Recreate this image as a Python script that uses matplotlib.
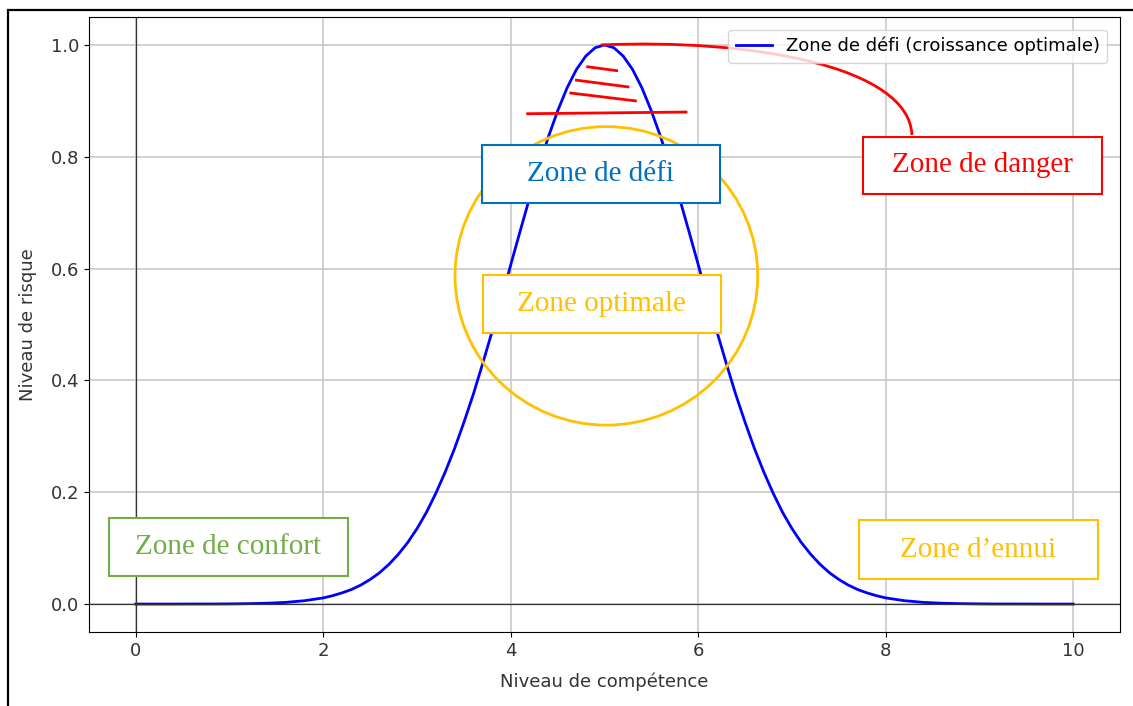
import matplotlib
matplotlib.use("Agg")
import matplotlib.pyplot as plt
from matplotlib.patches import Rectangle, Ellipse, PathPatch
from matplotlib.path import Path

# Niveau de compétence (x) et niveau de risque (y)
competence = [0.0, 0.2, 0.4, 0.6, 0.8, 1.0, 1.2, 1.4, 1.6, 1.8,
              2.0, 2.1, 2.2, 2.3, 2.4, 2.5, 2.6, 2.7, 2.8, 2.9,
              3.0, 3.1, 3.2, 3.3, 3.4, 3.5, 3.6, 3.7, 3.8, 3.9,
              4.0, 4.1, 4.2, 4.3, 4.4, 4.5, 4.6, 4.7, 4.8, 4.9,
              5.0, 5.1, 5.2, 5.3, 5.4, 5.5, 5.6, 5.7, 5.8, 5.9,
              6.0, 6.1, 6.2, 6.3, 6.4, 6.5, 6.6, 6.7, 6.8, 6.9,
              7.0, 7.1, 7.2, 7.3, 7.4, 7.5, 7.6, 7.7, 7.8, 7.9,
              8.0, 8.2, 8.4, 8.6, 8.8, 9.0, 9.2, 9.4, 9.6, 9.8, 10.0]
risque = [0.0, 0.0, 0.0, 0.0001, 0.0001, 0.0003, 0.0007, 0.0015, 0.003, 0.006,
          0.011, 0.015, 0.020, 0.026, 0.034, 0.044, 0.056, 0.071, 0.089, 0.110,
          0.135, 0.164, 0.198, 0.236, 0.278, 0.325, 0.375, 0.430, 0.487, 0.546,
          0.607, 0.667, 0.726, 0.783, 0.835, 0.882, 0.923, 0.956, 0.980, 0.995,
          1.0, 0.995, 0.980, 0.956, 0.923, 0.882, 0.835, 0.783, 0.726, 0.667,
          0.607, 0.546, 0.487, 0.430, 0.375, 0.325, 0.278, 0.236, 0.198, 0.164,
          0.135, 0.110, 0.089, 0.071, 0.056, 0.044, 0.034, 0.026, 0.020, 0.015,
          0.011, 0.006, 0.003, 0.0015, 0.0007, 0.0003, 0.0001, 0.0001, 0.0, 0.0, 0.0]
legende = "Zone de défi (croissance optimale)"

# Encadrés : (texte, x0, x1, y_bas, y_haut, couleur)
zones = [
    ("Zone de défi", 3.69, 6.23, 0.718, 0.821, "#0070C0"),
    ("Zone optimale", 3.70, 6.24, 0.484, 0.588, "#FFC000"),
    ("Zone de confort", -0.29, 2.26, 0.050, 0.154, "#70AD47"),
    ("Zone d\u2019ennui", 7.72, 10.26, 0.045, 0.150, "#FFC000"),
    ("Zone de danger", 7.76, 10.31, 0.734, 0.836, "#FF0000"),
]

# Traits rouges (hachures) dans le sommet
hachures = [
    ((4.82, 0.961), (5.13, 0.954)),
    ((4.70, 0.937), (5.25, 0.925)),
    ((4.64, 0.914), (5.33, 0.900)),
    ((4.18, 0.877), (5.87, 0.880)),
]

fig = plt.figure(figsize=(11.33, 7.06), dpi=100)
fig.patch.set_facecolor("white")

# Cadre de la capture d'écran
fig.add_artist(Rectangle((8 / 1133, -0.05), 1.1, 1 - 10 / 706 + 0.05,
                         transform=fig.transFigure, fill=False,
                         edgecolor="black", lw=1.6))

ax = fig.add_axes([89 / 1133, 1 - 632 / 706, (1120 - 89) / 1133, (632 - 17) / 706])

ax.plot(competence, risque, color="blue", lw=2, label=legende)
ax.axhline(0, color="#333333", lw=0.9)
ax.axvline(0, color="#333333", lw=0.9)

ax.set_xlim(-0.5, 10.5)
ax.set_ylim(-0.05, 1.05)
ax.set_xlabel("Niveau de compétence", fontsize=13, color="#333333", labelpad=9)
ax.set_ylabel("Niveau de risque", fontsize=13, color="#333333", labelpad=10)
ax.tick_params(labelsize=13, labelcolor="#333333")
ax.grid(True, color="#c8c8c8", lw=1.2)
ax.legend(loc="upper right", fontsize=13, framealpha=0.8, borderaxespad=0.7)

# Cercle orange autour de la zone optimale
ax.add_patch(Ellipse((5.02, 0.587), 3.23, 0.534, fill=False,
                     edgecolor="#FFC000", lw=2, zorder=4))

# Hachures rouges
for (x0, y0), (x1, y1) in hachures:
    ax.plot([x0, x1], [y0, y1], color="red", lw=2, zorder=5)

# Connecteur courbe vers la zone de danger
connecteur = Path([(4.96, 1.0), (6.6, 1.012), (8.25, 0.96), (8.28, 0.839)],
                  [Path.MOVETO, Path.CURVE4, Path.CURVE4, Path.CURVE4])
ax.add_patch(PathPatch(connecteur, fill=False, edgecolor="red", lw=2, zorder=5))

for texte, x0, x1, y0, y1, couleur in zones:
    ax.add_patch(Rectangle((x0, y0), x1 - x0, y1 - y0, facecolor="white",
                           edgecolor=couleur, lw=1.5, zorder=6))
    ax.text((x0 + x1) / 2, (y0 + y1) / 2, texte, color=couleur,
            family="Liberation Serif", fontsize=21, ha="center", va="center",
            zorder=7)

plt.savefig("out.png", dpi=100)
